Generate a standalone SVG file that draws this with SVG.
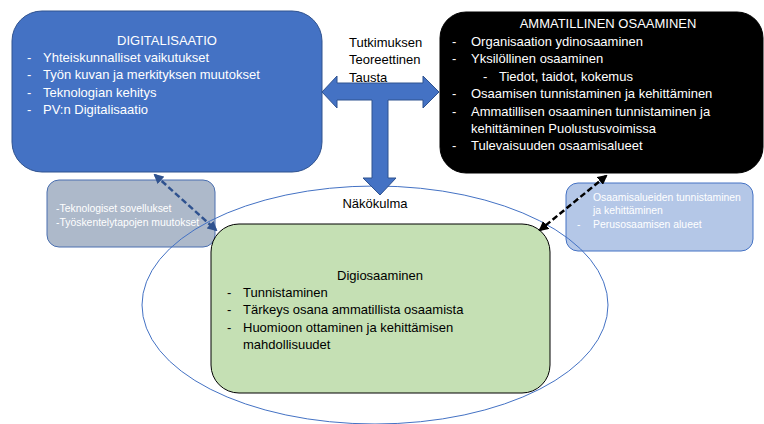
<svg xmlns="http://www.w3.org/2000/svg" width="764" height="424" viewBox="0 0 764 424">
<defs>
<style>
text{font-family:"Liberation Sans",Arial,sans-serif;}
.t{font-size:13px;}
.s{font-size:10.4px;fill:#fff;}
.w{fill:#fff;}
.k{fill:#000;}
.c{text-anchor:middle;}
</style>
<marker id="hb" viewBox="0 0 10 10" refX="8" refY="5" markerWidth="4" markerHeight="4" orient="auto-start-reverse"><path d="M0,0 L10,5 L0,10 z" fill="#2F528F"/></marker>
<marker id="hk" viewBox="0 0 10 10" refX="8" refY="5" markerWidth="4" markerHeight="4" orient="auto-start-reverse"><path d="M0,0 L10,5 L0,10 z" fill="#000"/></marker>
</defs>
<rect width="764" height="424" fill="#fff"/>

<g id="digitalisaatio">
<rect x="12" y="11" width="310" height="161" rx="30" fill="#4472C4" stroke="#2F528F" stroke-width="1"/>
<text class="t w c" x="167" y="45">DIGITALISAATIO</text>
<text class="t w" x="27" y="62">-</text><text class="t w" x="43" y="62">Yhteiskunnalliset vaikutukset</text>
<text class="t w" x="27" y="79">-</text><text class="t w" x="43" y="79">Työn kuvan ja merkityksen muutokset</text>
<text class="t w" x="27" y="97">-</text><text class="t w" x="43" y="97">Teknologian kehitys</text>
<text class="t w" x="27" y="114">-</text><text class="t w" x="43" y="114">PV:n Digitalisaatio</text>
</g>

<g id="ammatillinen">
<rect x="440" y="12" width="323" height="161" rx="26" fill="#000" stroke="#000" stroke-width="1"/>
<text class="t w c" x="608" y="28">AMMATILLINEN OSAAMINEN</text>
<text class="t w" x="452" y="46">-</text><text class="t w" x="471" y="46">Organisaation ydinosaaminen</text>
<text class="t w" x="452" y="63">-</text><text class="t w" x="471" y="63">Yksilöllinen osaaminen</text>
<text class="t w" x="483" y="81">-</text><text class="t w" x="499" y="81">Tiedot, taidot, kokemus</text>
<text class="t w" x="452" y="98">-</text><text class="t w" x="471" y="98">Osaamisen tunnistaminen ja kehittäminen</text>
<text class="t w" x="452" y="116">-</text><text class="t w" x="471" y="116">Ammatillisen osaaminen tunnistaminen ja </text>
<text class="t w" x="471" y="133">kehittäminen Puolustusvoimissa</text>
<text class="t w" x="452" y="150">-</text><text class="t w" x="471" y="150">Tulevaisuuden osaamisalueet</text>
</g>

<g id="tausta">
<text class="t k" x="349" y="47">Tutkimuksen </text>
<text class="t k" x="349" y="64">Teoreettinen</text>
<text class="t k" x="349" y="82">Tausta</text>
</g>

<g id="teknologiset">
<rect x="47" y="180" width="168" height="67" rx="12" fill="#ADB9CA" stroke="#4A6FB0" stroke-width="1"/>
<text class="s" x="56" y="212">-Teknologiset sovellukset</text>
<text class="s" x="56" y="226">-Työskentelytapojen muutokset</text>
</g>

<g id="osaamisalueet">
<rect x="566" y="183" width="187" height="68" rx="12" fill="#B4C7E7" stroke="#4472C4" stroke-width="1"/>
<text class="s" x="577" y="201">-</text><text class="s" x="593" y="201">Osaamisalueiden tunnistaminen </text>
<text class="s" x="593" y="214">ja kehittäminen</text>
<text class="s" x="577" y="228">-</text><text class="s" x="593" y="228">Perusosaamisen alueet</text>
</g>

<g id="nakokulma">
<ellipse cx="375" cy="305" rx="233" ry="119" fill="none" stroke="#4472C4" stroke-width="1"/>
<text class="t k c" x="375" y="208">Näkökulma</text>
</g>

<g id="digiosaaminen">
<rect x="211" y="224" width="339" height="169" rx="28" fill="#C5E0B4" stroke="#000" stroke-width="1"/>
<text class="t k c" x="380" y="280">Digiosaaminen</text>
<text class="t k" x="227" y="297">-</text><text class="t k" x="243" y="297">Tunnistaminen</text>
<text class="t k" x="227" y="314">-</text><text class="t k" x="243" y="314">Tärkeys osana ammatillista osaamista</text>
<text class="t k" x="227" y="332">-</text><text class="t k" x="243" y="332">Huomioon ottaminen ja kehittämisen </text>
<text class="t k" x="243" y="349">mahdollisuudet</text>
</g>

<g id="connectors">
<path d="M322,92 L337,76 L337,83 L423,83 L423,76 L439,92 L423,108 L423,100 L388,100 L388,178 L396,178 L380,195 L363,178 L372,178 L372,100 L337,100 L337,108 Z" fill="#4472C4" stroke="#2F528F" stroke-width="1"/>
<line x1="155" y1="175" x2="216" y2="230" stroke="#2F528F" stroke-width="2.5" stroke-dasharray="6 3" marker-start="url(#hb)" marker-end="url(#hb)"/>
<line x1="606" y1="176" x2="540" y2="230" stroke="#000" stroke-width="2.5" stroke-dasharray="6 3" marker-start="url(#hk)" marker-end="url(#hk)"/>
</g>
</svg>
